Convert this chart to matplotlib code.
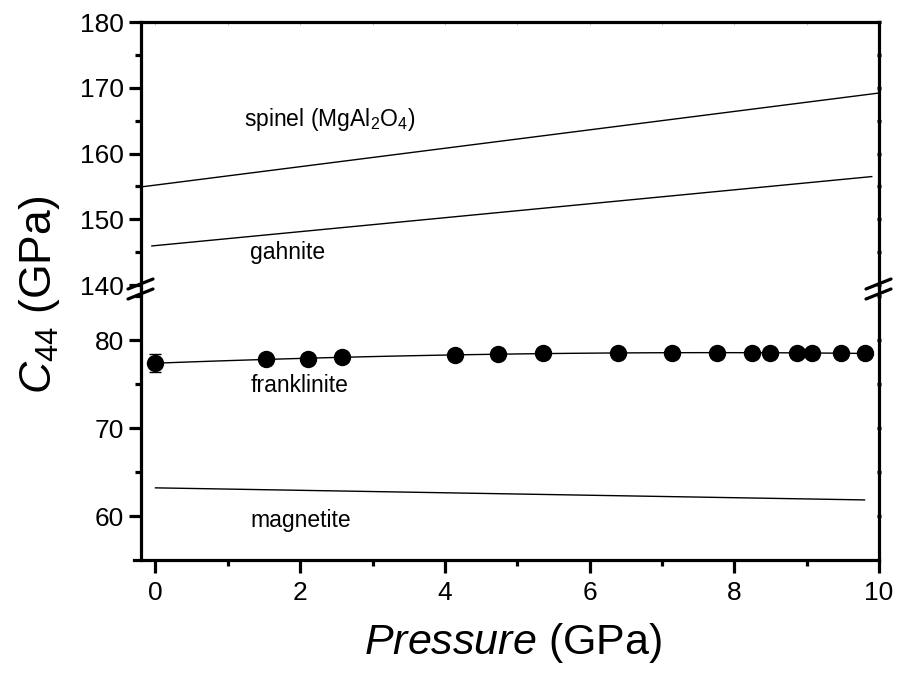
import numpy as np
import matplotlib
matplotlib.use("Agg")
import matplotlib.pyplot as plt

plt.rcParams['font.family'] = ['Liberation Sans', 'DejaVu Sans']
plt.rcParams['mathtext.fontset'] = 'custom'
plt.rcParams['mathtext.rm'] = 'Liberation Sans'
plt.rcParams['mathtext.it'] = 'Liberation Sans:italic'

# franklinite measurements
pressure = [0.0, 1.53, 2.11, 2.58, 4.14, 4.74, 5.35, 6.39, 7.14, 7.76,
            8.25, 8.49, 8.87, 9.08, 9.48, 9.81]
c44 = [77.4, 77.8, 77.8, 78.1, 78.3, 78.4, 78.5, 78.56, 78.56, 78.56,
       78.56, 78.5, 78.5, 78.56, 78.5, 78.5]
c44_err0 = 1.05  # uncertainty of the ambient-pressure point

# reference minerals: C44(P) = c0 + slope * P over the plotted range
spinel = dict(c0=155.2, slope=1.40, p=(-0.2, 10.0))
gahnite = dict(c0=146.0, slope=1.06, p=(-0.05, 9.9))
magnetite = dict(c0=63.2, slope=-0.14, p=(0.0, 9.8))

fig = plt.figure(figsize=(8.99, 6.8), dpi=100)
L, R = 141 / 899, 879 / 899
y_top, y_brk, y_bot = 1 - 22 / 680, 1 - 289 / 680, 1 - 560 / 680
ax_hi = fig.add_axes([L, y_brk, R - L, y_top - y_brk])
ax_lo = fig.add_axes([L, y_bot, R - L, y_brk - y_bot])

lw = 2.3
tick_fs = 19
for ax in (ax_hi, ax_lo):
    ax.set_xlim(-0.2, 10.0)
    for s in ax.spines.values():
        s.set_linewidth(lw)
    ax.tick_params(axis='y', which='major', direction='out', length=9, width=lw,
                   labelsize=tick_fs, right=True, pad=3)
    ax.tick_params(axis='y', which='minor', direction='out', length=4.5, width=lw,
                   right=True)
    ax.tick_params(axis='x', which='major', direction='out', length=9, width=lw,
                   labelsize=tick_fs, pad=6)
    ax.tick_params(axis='x', which='minor', direction='out', length=4.5, width=lw)
    ax.set_xticks([0, 2, 4, 6, 8, 10])
    ax.set_xticks([1, 3, 5, 7, 9], minor=True)

ax_hi.set_ylim(139.4, 180)
ax_hi.set_yticks([140, 150, 160, 170, 180])
ax_hi.set_yticks([145, 155, 165, 175], minor=True)
ax_hi.spines['bottom'].set_visible(False)
ax_hi.tick_params(axis='x', which='both', bottom=False, labelbottom=False,
                  top=True, direction='in', length=2, width=0.6, color='#bbbbbb')

ax_lo.set_ylim(55, 85.8)
ax_lo.set_yticks([60, 70, 80])
ax_lo.set_yticks([65, 75, 85], minor=True)
ax_lo.spines['top'].set_visible(False)
ax_lo.spines['bottom'].set_bounds(-0.29, 10.0)

# right-hand ticks are short marks straddling the spine
for ax in (ax_hi, ax_lo):
    for t in ax.yaxis.get_major_ticks() + ax.yaxis.get_minor_ticks():
        t.tick2line.set_markersize(3)
        t.tick2line.set_marker('_')

# reference minerals
for ax, m in ((ax_hi, spinel), (ax_hi, gahnite), (ax_lo, magnetite)):
    p = np.array(m['p'])
    ax.plot(p, m['c0'] + m['slope'] * p, color='black', lw=1.0, clip_on=False)

# franklinite fit and data
coef = np.polyfit(pressure, c44, 2)
pf = np.linspace(0, 9.85, 100)
ax_lo.plot(pf, np.polyval(coef, pf), color='black', lw=1.0)
ax_lo.errorbar(pressure[:1], c44[:1], yerr=c44_err0, fmt='none', ecolor='black',
               elinewidth=1.0, capsize=4.5, capthick=1.0)
ax_lo.plot(pressure, c44, 'o', color='black', ms=11.5, clip_on=False, zorder=5)

# labels
fs = 16.5
ax_hi.text(1.22, 165.1, r'spinel (MgAl$_2$O$_4$)', fontsize=fs, va='center')
ax_hi.text(1.30, 145.0, 'gahnite', fontsize=fs, va='center')
ax_lo.text(1.31, 74.8, 'franklinite', fontsize=fs, va='center')
ax_lo.text(1.31, 59.5, 'magnetite', fontsize=fs, va='center')

# axis break marks on both sides
for xc in (L, R):
    for dy in (-5, 5):
        y0 = 1 - (289 + dy) / 680
        fig.add_artist(plt.Line2D([xc - 13 / 899, xc + 12 / 899],
                                  [y0 - 5 / 680, y0 + 5 / 680],
                                  transform=fig.transFigure, color='black', lw=lw,
                                  solid_capstyle='round'))

fig.text(513 / 899, 1 - 643 / 680, r'$\it{Pressure}$ (GPa)', fontsize=31,
         ha='center', va='center')
fig.text(40 / 899, 1 - 295 / 680, r'$\it{C}_{44}$ (GPa)', fontsize=32,
         ha='center', va='center', rotation=90)

fig.savefig('out.png', dpi=100)
